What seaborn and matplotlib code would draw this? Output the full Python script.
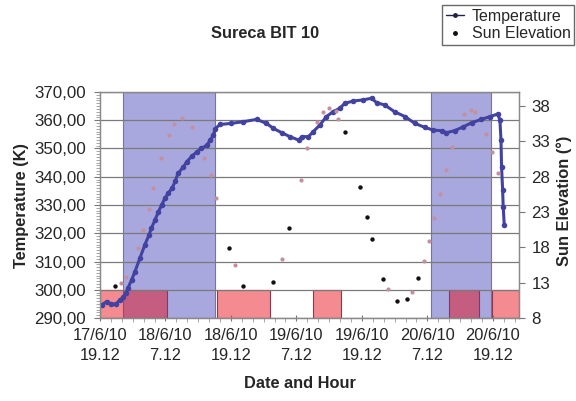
import matplotlib
matplotlib.use("Agg")
import matplotlib.pyplot as plt
from matplotlib.ticker import FixedLocator, MultipleLocator, FuncFormatter
from matplotlib.lines import Line2D
import seaborn as sns
import pandas as pd

# ---- data ----
x_tick_hours = [0, 12, 24, 36, 48, 60, 72]
x_tick_labels = ["17/6/10\n19.12", "18/6/10\n7.12", "18/6/10\n19.12", "19/6/10\n7.12",
                 "19/6/10\n19.12", "20/6/10\n7.12", "20/6/10\n19.12"]

temp_hours = [0.3, 1.2, 2.1, 2.9, 3.7, 4.3, 4.8, 5.1, 5.8, 6.4, 7.3, 8.2, 9.0, 9.4, 10.1,
              10.7, 11.3, 11.9, 12.5, 13.2, 13.8, 14.3, 15.3, 15.9, 16.8, 17.8, 18.6, 19.6,
              20.2, 20.8, 21.1, 22.0, 24.1, 26.3, 28.7, 30.5, 31.8, 33.3, 34.8, 36.4, 37.0,
              38.2, 39.1, 40.3, 41.5, 42.7, 43.9, 44.9, 46.4, 48.2, 49.8, 50.7, 52.2, 54.0,
              55.9, 57.7, 59.5, 61.1, 62.6, 63.5, 65.0, 66.6, 68.1, 69.9, 71.5, 72.9, 73.3,
              73.5, 73.6, 73.8, 73.9, 74.1]
temp_values = [294.6, 295.8, 294.9, 295.0, 296.4, 297.5, 299.0, 300.5, 303.5, 306.4, 311.1,
               315.8, 319.5, 321.7, 324.8, 327.6, 330.0, 332.4, 334.2, 335.9, 338.5, 341.2,
               343.5, 345.3, 347.2, 348.9, 350.0, 351.2, 353.0, 354.8, 357.0, 358.5, 358.9,
               359.5, 360.3, 358.9, 357.1, 355.6, 354.2, 353.0, 354.2, 354.2, 356.0, 358.3,
               361.3, 363.0, 364.2, 366.0, 366.8, 367.2, 367.8, 366.2, 365.4, 363.0, 361.3,
               358.9, 357.5, 356.5, 356.3, 355.6, 356.3, 357.7, 359.1, 360.3, 361.3, 362.2,
               360.1, 353.0, 343.6, 335.3, 329.4, 322.9]

sun_dark_hours = [2.75, 23.69, 26.25, 31.64, 34.57, 44.89, 47.64, 48.86, 49.84, 51.91,
                  54.36, 56.19, 58.32]
sun_dark_elev = [12.5, 17.9, 12.6, 13.1, 20.8, 34.3, 26.5, 22.3, 19.2, 13.5, 10.4, 10.7, 13.7]

sun_light_hours = [3.85, 4.71, 6.91, 7.82, 8.98, 9.77, 11.18, 12.64, 13.61, 15.08, 16.80,
                   19.11, 20.28, 21.20, 24.73, 33.29, 36.77, 37.98, 39.81, 40.91, 42.01,
                   43.24, 43.66, 52.77, 57.11, 59.42, 60.33, 61.25, 62.35, 63.39, 64.44,
                   66.75, 67.97, 68.71, 70.67, 71.77, 72.86]
sun_light_elev = [12.9, 13.8, 17.9, 20.4, 23.4, 26.4, 30.6, 33.9, 35.4, 36.3, 35.0, 30.7,
                  28.2, 25.0, 15.5, 16.3, 27.5, 32.1, 35.7, 37.1, 37.8, 37.3, 36.2, 12.1,
                  11.7, 16.1, 18.9, 22.2, 25.6, 28.9, 32.2, 36.9, 37.5, 37.1, 34.0, 31.5,
                  28.5]

blue_start = [4.2, 60.6]
blue_end = [21.1, 71.6]
red_start = [0.0, 21.4, 39.0, 64.0, 71.8]
red_end = [12.2, 31.1, 44.1, 69.4, 76.8]

# ---- style ----
sns.set_style("white")
plt.rcParams['font.family'] = ['Liberation Sans', 'DejaVu Sans']

fig = plt.figure(figsize=(5.76, 4.01), dpi=100)
ax = fig.add_axes([100/576, 1-318/401, 419/576, 226/401])
ax2 = ax.twinx()

ax.set_xlim(0, 76.8)
ax.set_ylim(290, 370)
ax2.set_ylim(8, 40)

# shaded regions
for s, e in zip(blue_start, blue_end):
    ax.axvspan(s, e, facecolor='#a8a8de', edgecolor='#7474aa', linewidth=0.8, zorder=0.1)
ax.bar(red_start, [10]*len(red_start), width=[e - s for s, e in zip(red_start, red_end)],
       bottom=290, align='edge', color=(0.9, 0.05, 0.1, 0.48), edgecolor='#8a3a4a',
       linewidth=0.8, zorder=0.3)

ax.set_axisbelow(True)
ax.yaxis.grid(True, color='#7a7a7a', linewidth=0.9)
ax.xaxis.grid(False)

temp_df = pd.DataFrame({"h": temp_hours, "T": temp_values})
sns.lineplot(data=temp_df, x="h", y="T", ax=ax, color='#4242a2', linewidth=2.2,
             marker='o', markersize=4.0, markeredgewidth=0, sort=False, legend=False,
             zorder=3)

light_df = pd.DataFrame({"h": sun_light_hours, "e": sun_light_elev})
dark_df = pd.DataFrame({"h": sun_dark_hours, "e": sun_dark_elev})
sns.scatterplot(data=light_df, x="h", y="e", ax=ax2, color='#c4909e', s=9, linewidth=0,
                legend=False, zorder=4)
sns.scatterplot(data=dark_df, x="h", y="e", ax=ax2, color='#111111', s=10, linewidth=0,
                legend=False, zorder=4)

# ticks
ax.xaxis.set_major_locator(FixedLocator(x_tick_hours))
ax.set_xticklabels(x_tick_labels, fontsize=11.8, linespacing=1.45)
ax.xaxis.set_minor_locator(MultipleLocator(2))
ax.yaxis.set_major_locator(MultipleLocator(10))
ax.yaxis.set_minor_locator(MultipleLocator(1))
ax.yaxis.set_major_formatter(FuncFormatter(lambda v, p: f"{v:.2f}".replace('.', ',')))
ax.tick_params(axis='y', which='major', labelsize=12.2, length=4, direction='out',
               color='#777777', pad=6)
ax.tick_params(axis='y', which='minor', length=3, direction='out', color='#999999')
ax.tick_params(axis='x', which='major', length=4, direction='inout', color='#777777', pad=5)
ax.tick_params(axis='x', which='minor', length=3, direction='out', color='#999999')
ax.tick_params(left=True, bottom=True, which='both')

ax2.set_yticks([8, 13, 18, 23, 28, 33, 38])
ax2.tick_params(axis='y', labelsize=12.2, length=4, direction='out', color='#777777', pad=5,
                right=True)
ax2.set_ylabel("")
ax.set_xlabel("")
ax.set_ylabel("")
ax2.grid(False)

for a in (ax, ax2):
    for sp in a.spines.values():
        sp.set_color('#8a8a8a')
        sp.set_linewidth(0.9)

# labels
fig.text(265/576, 1-33/401, "Sureca BIT 10", ha='center', va='center',
         fontsize=11.8, fontweight='bold')
fig.text(22/576, 1-205/401, "Temperature (K)", ha='center', va='center', rotation=90,
         fontsize=11.8, fontweight='bold')
fig.text(564/576, 1-201/401, "Sun Elevation (°)", ha='center', va='center', rotation=90,
         fontsize=11.8, fontweight='bold')
fig.text(300/576, 1-384/401, "Date and Hour", ha='center', va='center',
         fontsize=11.8, fontweight='bold')

handles = [Line2D([0], [0], color='#222244', linewidth=1.0, marker='o', markersize=2.5),
           Line2D([0], [0], color='#111111', linestyle='none', marker='o', markersize=2.5)]
leg = fig.legend(handles, ["Temperature", "Sun Elevation"], loc='upper left',
                 bbox_to_anchor=(442/576, 1-5/401), fontsize=11.5, frameon=True,
                 fancybox=False, handlelength=1.1, handletextpad=0.5, borderpad=0.25,
                 labelspacing=0.15, borderaxespad=0)
leg.get_frame().set_edgecolor('#444444')
leg.get_frame().set_linewidth(1.0)

fig.savefig("out.png", dpi=100)
